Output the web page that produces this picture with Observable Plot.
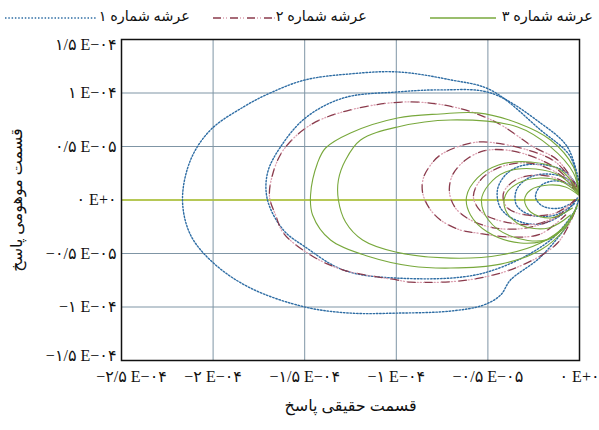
<!DOCTYPE html>
<html>
<head>
<meta charset="utf-8">
<script src="https://cdn.jsdelivr.net/npm/d3@7"></script>
<script src="https://cdn.jsdelivr.net/npm/@observablehq/plot@0.6"></script>
<style>
  html, body { margin: 0; padding: 0; background: #fff; }
  #wrap { position: relative; width: 599px; height: 430px; font-family: 'Liberation Serif', 'DejaVu Sans', serif; }
  .leg { position: absolute; top: 6px; font-size: 14.5px; white-space: nowrap; color: #111; line-height: 20px; }
  .sw { position: absolute; top: 8px; }
</style>
</head>
<body>
<div id="wrap">
  <div id="chart"></div>
  <svg class="sw" style="left:5px" width="92" height="20"><line x1="0" y1="10" x2="92" y2="10" stroke="#2e6da4" stroke-width="1.4" stroke-dasharray="1.5,1.8"/></svg>
  <span class="leg" style="right:409px">عرشه شماره ۱</span>
  <svg class="sw" style="left:213px" width="62" height="20"><line x1="0" y1="10" x2="62" y2="10" stroke="#8a3b4c" stroke-width="1.3" stroke-dasharray="8,9"/><line x1="0" y1="10" x2="62" y2="10" stroke="#dca0b0" stroke-width="1.3" stroke-dasharray="0,10,1,2,1,3"/></svg>
  <span class="leg" style="right:232px">عرشه شماره ۲</span>
  <svg class="sw" style="left:430px" width="66" height="20"><line x1="0" y1="10" x2="66" y2="10" stroke="#78a83c" stroke-width="1.6"/></svg>
  <span class="leg" style="right:6px">عرشه شماره ۳</span>
</div>
<script>
// values in units of 1E-4 (real part, imaginary part)
const xTicks = [-2.5, -2, -1.5, -1, -0.5, 0];
const xTickLabels = ["−۲/۵ E−۰۴", "−۲ E−۰۴", "−۱/۵ E−۰۴", "−۱ E−۰۴", "−۰/۵ E−۰۵", "۰ E+۰"];
const yTicks = [-1.5, -1, -0.5, 0, 0.5, 1, 1.5];
const yTickLabels = ["−۱/۵ E−۰۴", "−۱ E−۰۴", "−۰/۵ E−۰۵", "۰ E+۰", "۰/۵ E−۰۵", "۱ E−۰۴", "۱/۵ E−۰۴"];
const seriesNames = ["عرشه شماره ۱", "عرشه شماره ۲", "عرشه شماره ۳"];
const xTitle = "قسمت حقیقی پاسخ";
const yTitle = "قسمت موهومی پاسخ";

// Deck 1 (blue dotted)
const deck1Loop1 = [[-0.005,0.094],[-0.049,0.402],[-0.213,0.655],[-0.486,1.029],[-0.704,1.123],[-0.993,1.197],[-1.25,1.179],[-1.496,1.123],[-1.687,1.001],[-1.834,0.870],[-2.014,0.655],[-2.123,0.374],[-2.167,0],[-2.123,-0.327],[-1.998,-0.589],[-1.796,-0.823],[-1.496,-1.001],[-1.25,-1.057],[-0.993,-1.057],[-0.704,-1.038],[-0.524,-0.982],[-0.431,-0.889],[-0.377,-0.748],[-0.213,-0.533],[-0.049,-0.187],[-0.005,0]];
const deck1Loop2 = [[-0.005,0.187],[-0.066,0.496],[-0.213,0.720],[-0.486,1.001],[-0.759,1.029],[-0.993,1.010],[-1.288,0.954],[-1.496,0.767],[-1.632,0.496],[-1.703,0.253],[-1.703,0],[-1.616,-0.281],[-1.496,-0.44],[-1.288,-0.655],[-0.993,-0.730],[-0.524,-0.683],[-0.158,-0.374],[-0.011,-0.065]];
const deck1Loop3 = [[-0.005,0.112],[-0.076,0.262],[-0.186,0.327],[-0.322,0.318],[-0.404,0.234],[-0.448,0.094],[-0.431,-0.075],[-0.349,-0.187],[-0.213,-0.225],[-0.076,-0.112],[-0.011,0.019]];
const deck1Loop4 = [[-0.005,0.094],[-0.076,0.206],[-0.186,0.243],[-0.278,0.206],[-0.344,0.094],[-0.344,-0.047],[-0.267,-0.140],[-0.131,-0.140],[-0.022,-0.028]];
const deck1Loop5 = [[-0.005,0.075],[-0.060,0.150],[-0.142,0.178],[-0.213,0.131],[-0.240,0.028],[-0.202,-0.056],[-0.104,-0.075],[-0.016,0]];

// Deck 2 (maroon dash-dot)
const deck2Loop1 = [[-0.011,0.112],[-0.120,0.374],[-0.251,0.496],[-0.448,0.720],[-0.666,0.861],[-0.939,0.917],[-1.25,0.842],[-1.468,0.702],[-1.616,0.468],[-1.676,0.234],[-1.692,0.028],[-1.659,-0.140],[-1.616,-0.309],[-1.468,-0.514],[-1.288,-0.655],[-0.993,-0.748],[-0.922,-0.767],[-0.611,-0.748],[-0.338,-0.627],[-0.120,-0.402],[-0.022,-0.094]];
const deck2Loop2 = [[-0.022,0.140],[-0.131,0.355],[-0.284,0.468],[-0.524,0.543],[-0.633,0.515],[-0.759,0.421],[-0.813,0.327],[-0.852,0.206],[-0.857,0.075],[-0.824,-0.065],[-0.759,-0.187],[-0.650,-0.281],[-0.557,-0.309],[-0.377,-0.346],[-0.213,-0.318],[-0.076,-0.140]];
const deck2Loop3 = [[-0.016,0.112],[-0.131,0.299],[-0.267,0.412],[-0.404,0.468],[-0.524,0.458],[-0.622,0.374],[-0.693,0.234],[-0.710,0.075],[-0.677,-0.075],[-0.595,-0.187],[-0.459,-0.262],[-0.295,-0.262],[-0.131,-0.168],[-0.027,0]];
const deck2Loop4 = [[-0.011,0.094],[-0.131,0.262],[-0.278,0.346],[-0.431,0.309],[-0.540,0.187],[-0.579,0.028],[-0.529,-0.122],[-0.404,-0.206],[-0.240,-0.225],[-0.104,-0.140]];
const deck2Loop5 = [[-0.005,0.075],[-0.104,0.187],[-0.224,0.234],[-0.349,0.187],[-0.415,0.065],[-0.398,-0.065],[-0.295,-0.140],[-0.131,-0.122],[-0.022,0]];

// Deck 3 (green solid)
const deck3Loop1 = [[-0.005,0.094],[-0.033,0.309],[-0.158,0.561],[-0.338,0.720],[-0.557,0.814],[-0.759,0.804],[-0.993,0.767],[-1.25,0.627],[-1.386,0.486],[-1.430,0.346],[-1.468,0.047],[-1.457,-0.140],[-1.359,-0.374],[-1.141,-0.533],[-0.922,-0.617],[-0.704,-0.636],[-0.431,-0.599],[-0.213,-0.468],[-0.076,-0.262],[-0.011,-0.047]];
const deck3Loop2 = [[-0.005,0.075],[-0.033,0.253],[-0.158,0.496],[-0.338,0.683],[-0.704,0.748],[-0.993,0.683],[-1.195,0.561],[-1.277,0.374],[-1.316,0.187],[-1.316,0],[-1.277,-0.206],[-1.184,-0.374],[-1.004,-0.486],[-0.704,-0.543],[-0.431,-0.514],[-0.213,-0.402],[-0.076,-0.234],[-0.011,-0.047]];
const deck3Loop3 = [[-0.005,0.075],[-0.104,0.281],[-0.267,0.355],[-0.442,0.327],[-0.557,0.206],[-0.617,0.028],[-0.595,-0.140],[-0.502,-0.299],[-0.322,-0.402],[-0.142,-0.346],[-0.027,-0.112]];
const deck3Loop4 = [[-0.005,0.065],[-0.104,0.225],[-0.240,0.290],[-0.404,0.262],[-0.497,0.140],[-0.535,0],[-0.497,-0.187],[-0.377,-0.337],[-0.186,-0.374],[-0.060,-0.225]];
const deck3Loop5 = [[-0.005,0.056],[-0.093,0.168],[-0.213,0.206],[-0.333,0.159],[-0.404,0.047],[-0.404,-0.094],[-0.322,-0.234],[-0.169,-0.262],[-0.049,-0.140]];
const deck3Loop6 = [[-0.005,0.047],[-0.076,0.122],[-0.169,0.140],[-0.267,0.094],[-0.300,0],[-0.267,-0.112],[-0.158,-0.168],[-0.038,-0.075]];

function rows(series, loops) {
  const out = [];
  loops.forEach((loop, i) => loop.forEach(([re, im]) => out.push({series, loop: series + "-" + i, re, im})));
  return out;
}
const deck1 = rows(seriesNames[0], [deck1Loop1, deck1Loop2, deck1Loop3, deck1Loop4, deck1Loop5]);
const deck2 = rows(seriesNames[1], [deck2Loop1, deck2Loop2, deck2Loop3, deck2Loop4, deck2Loop5]);
const deck3 = rows(seriesNames[2], [deck3Loop1, deck3Loop2, deck3Loop3, deck3Loop4, deck3Loop5, deck3Loop6]);

const xFmt = d => xTickLabels[xTicks.indexOf(d)];
const yFmt = d => yTickLabels[yTicks.indexOf(d)];
const font = "'Liberation Serif', 'DejaVu Sans', serif";
const chart = Plot.plot({
  width: 599,
  height: 430,
  marginLeft: 121,
  marginRight: 20,
  marginTop: 39,
  marginBottom: 70,
  style: {fontFamily: font, fontSize: "16px", color: "#111", background: "transparent"},
  x: {domain: [-2.5, 0]},
  y: {domain: [-1.5, 1.5]},
  marks: [
    Plot.gridX(xTicks, {stroke: "#7f95a5", strokeOpacity: 1, strokeWidth: 1}),
    Plot.gridY(yTicks, {stroke: "#7f95a5", strokeOpacity: 1, strokeWidth: 1}),
    Plot.ruleY([0], {stroke: "#b3c72c", strokeWidth: 1.6}),
    Plot.line(deck1, {x: "re", y: "im", z: "loop", curve: "catmull-rom", stroke: "#2e6da4", strokeWidth: 1.4, strokeDasharray: "1.5,1.8"}),
    Plot.line(deck2, {x: "re", y: "im", z: "loop", curve: "catmull-rom", stroke: "#8a3b4c", strokeWidth: 1.3, strokeDasharray: "8,9"}),
    Plot.line(deck2, {x: "re", y: "im", z: "loop", curve: "catmull-rom", stroke: "#dca0b0", strokeWidth: 1.3, strokeDasharray: "0,10,1,2,1,3"}),
    Plot.line(deck3, {x: "re", y: "im", z: "loop", curve: "catmull-rom", stroke: "#78a83c", strokeWidth: 1.1}),
    Plot.axisX(xTicks.slice(1), {tickSize: 0, tickPadding: 10, tickFormat: xFmt,
      label: xTitle, labelAnchor: "center", labelOffset: 50, labelArrow: "none"}),
    Plot.axisX([xTicks[0]], {tickSize: 0, tickPadding: 10, tickFormat: xFmt, dx: 10, label: null}),
    Plot.axisY(yTicks.slice(1, -1), {tickSize: 0, tickPadding: 5, tickFormat: yFmt,
      label: yTitle, labelAnchor: "center", labelOffset: 111, labelArrow: "none"}),
    Plot.axisY([yTicks[0]], {tickSize: 0, tickPadding: 5, tickFormat: yFmt, dy: -5, label: null}),
    Plot.axisY([yTicks[yTicks.length - 1]], {tickSize: 0, tickPadding: 5, tickFormat: yFmt, dy: 5, label: null}),
    Plot.frame({stroke: "#111", strokeWidth: 1.5})
  ]
});
document.getElementById("chart").appendChild(chart);
</script>
</body>
</html>
